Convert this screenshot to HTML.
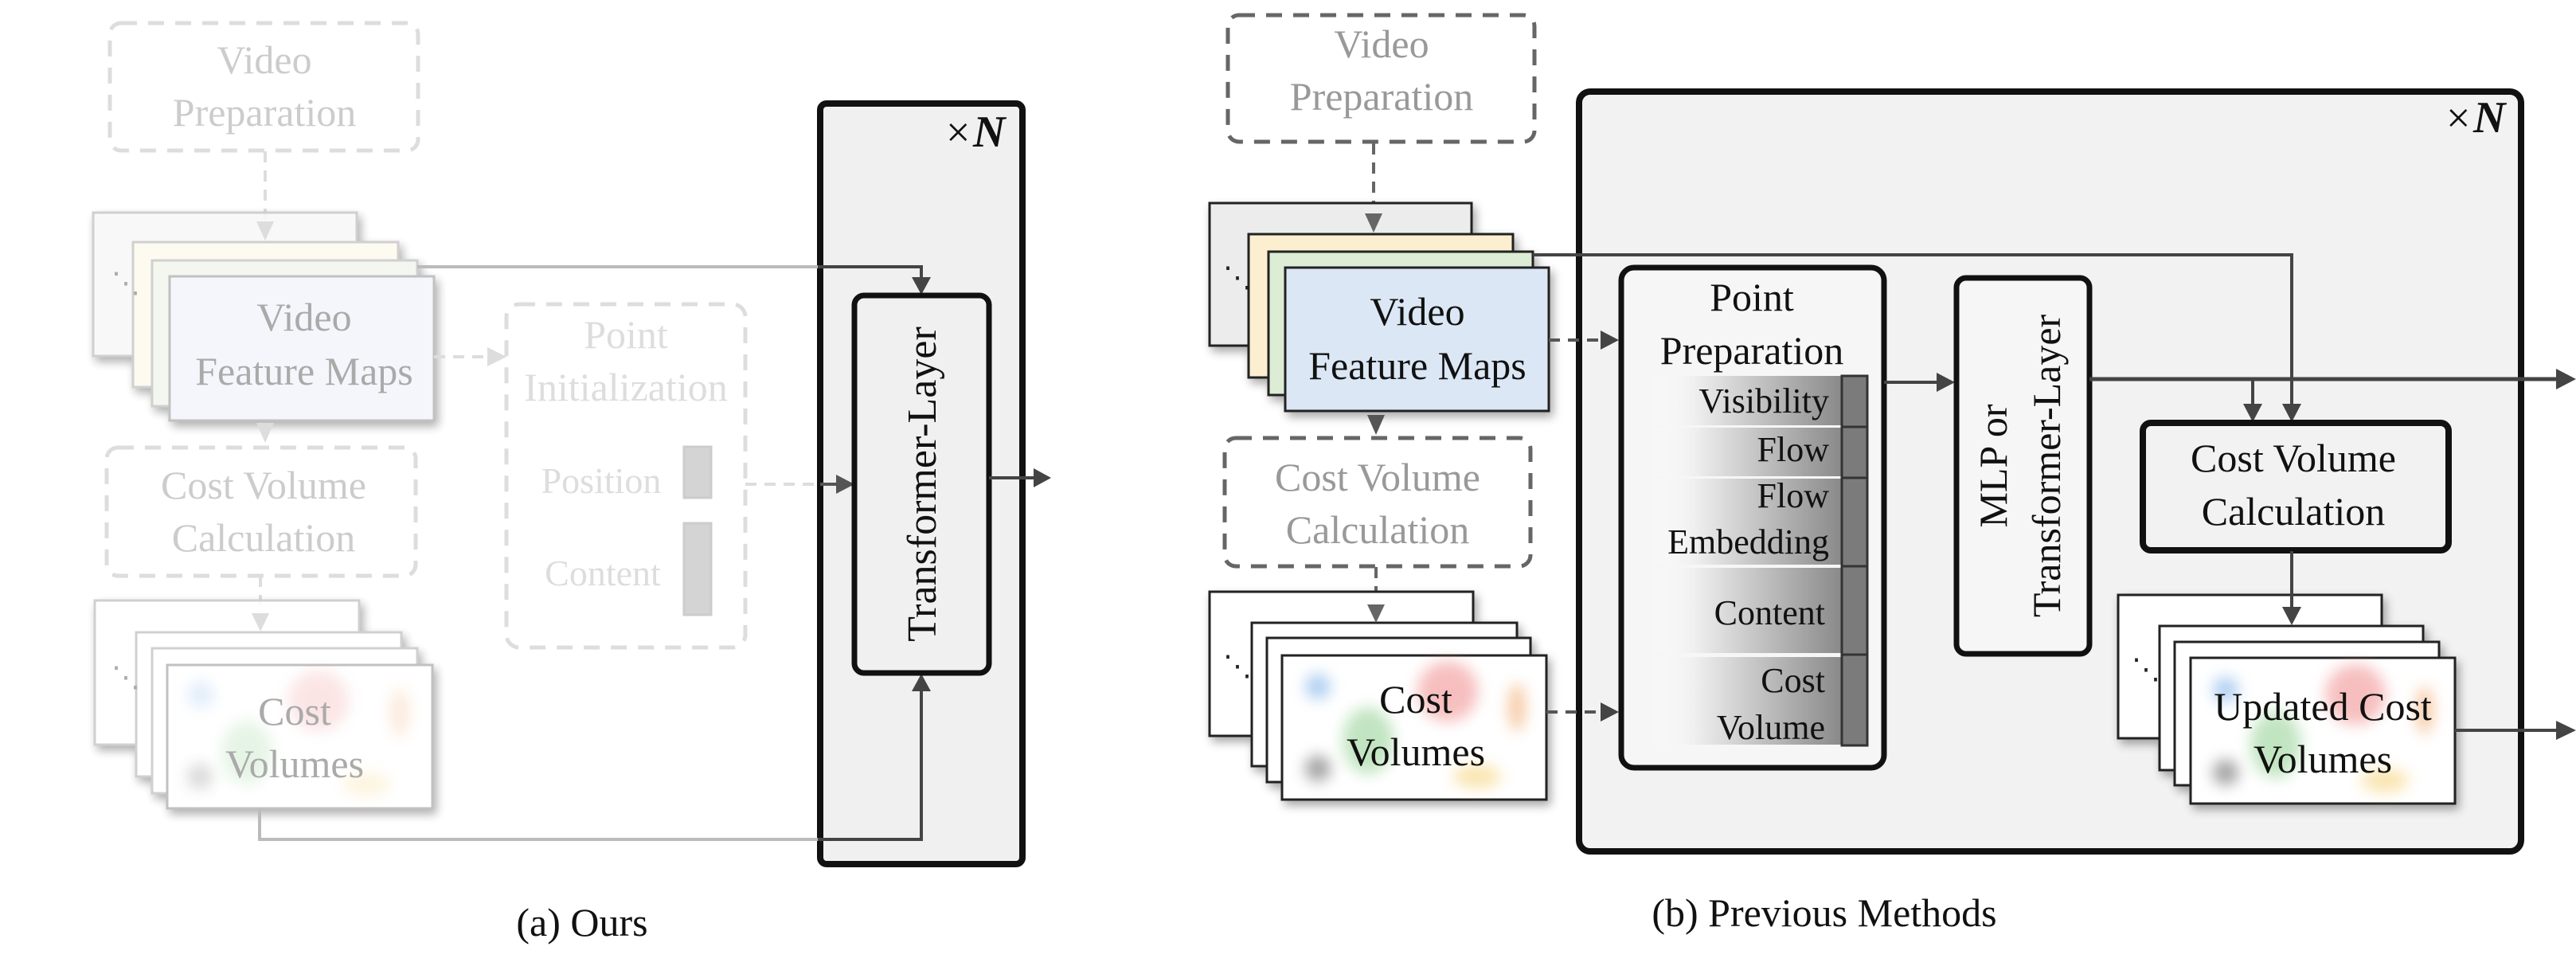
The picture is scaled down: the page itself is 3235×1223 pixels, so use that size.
<!DOCTYPE html>
<html><head><meta charset="utf-8"><style>
html,body{margin:0;padding:0;background:#fff}
svg{display:block}
text{font-family:"Liberation Serif",serif}
</style></head><body>
<svg width="3235" height="1223" viewBox="0 0 3235 1223" xmlns="http://www.w3.org/2000/svg">
<defs>
<filter id="sh" x="-10%" y="-10%" width="130%" height="130%"><feGaussianBlur in="SourceAlpha" stdDeviation="6"/><feOffset dx="4" dy="6"/><feComponentTransfer><feFuncA type="linear" slope="0.35"/></feComponentTransfer><feMerge><feMergeNode/><feMergeNode in="SourceGraphic"/></feMerge></filter>
<filter id="bl"><feGaussianBlur stdDeviation="9"/></filter>
<linearGradient id="gr" x1="0" x2="1" y1="0" y2="0"><stop offset="0" stop-color="#fff" stop-opacity="0"/><stop offset="0.25" stop-color="#eee"/><stop offset="1" stop-color="#8a8a8a"/></linearGradient>
</defs>

<!-- ============ LEFT PANEL ============ -->
<rect x="1030" y="130" width="254" height="955" rx="8" fill="#f0f0f0" stroke="#111" stroke-width="8"/>
<text x="1188" y="184" font-size="54" fill="#111">×</text>
<text x="1222" y="184" font-size="56" font-weight="bold" font-style="italic" fill="#111">N</text>

<rect x="138" y="29" width="387" height="160" rx="14" fill="none" stroke="#ddd" stroke-width="5" stroke-dasharray="20,14"/>
<text x="332" y="92" font-size="50" fill="#ccc" text-anchor="middle">Video</text>
<text x="332" y="158" font-size="50" fill="#ccc" text-anchor="middle">Preparation</text>
<line x1="333" y1="190" x2="333" y2="285" stroke="#ddd" stroke-width="4" stroke-dasharray="14,10"/>

<g filter="url(#sh)" opacity="0.9">
<rect x="117" y="267" width="331" height="180" fill="#f8f8f8" stroke="#ccc" stroke-width="3"/>
<rect x="167" y="304" width="333" height="182" fill="#fdfaee" stroke="#ccc" stroke-width="3"/>
<rect x="191" y="327" width="333" height="183" fill="#f2f7ef" stroke="#ccc" stroke-width="3"/>
<rect x="213" y="347" width="332" height="181" fill="#f3f6fb" stroke="#bbb" stroke-width="3"/>
</g>
<path d="M322,278 L344,278 L333,302z" fill="#ddd"/>
<text x="140" y="367" font-size="36" fill="#aaa">⋱</text>
<text x="382" y="415" font-size="50" fill="#aaa" text-anchor="middle">Video</text>
<text x="382" y="483" font-size="50" fill="#aaa" text-anchor="middle">Feature Maps</text>

<polyline points="524,335 1157,335" fill="none" stroke="#bbb" stroke-width="4"/>
<polyline points="1027,335 1157,335 1157,350" fill="none" stroke="#444" stroke-width="4"/>
<path d="M1145,348 L1169,348 L1157,370z" fill="#444"/>

<line x1="545" y1="448" x2="615" y2="448" stroke="#ddd" stroke-width="4" stroke-dasharray="14,10"/>
<path d="M612,436 L636,448 L612,460z" fill="#ddd"/>

<rect x="636" y="382" width="300" height="431" rx="16" fill="none" stroke="#ddd" stroke-width="5" stroke-dasharray="20,14"/>
<text x="786" y="437" font-size="50" fill="#ddd" text-anchor="middle">Point</text>
<text x="786" y="503" font-size="50" fill="#ddd" text-anchor="middle">Initialization</text>
<text x="755" y="619" font-size="46" fill="#ddd" text-anchor="middle">Position</text>
<rect x="859" y="561" width="34" height="64" fill="#d4d4d4" stroke="#ccc" stroke-width="3"/>
<text x="757" y="735" font-size="46" fill="#ddd" text-anchor="middle">Content</text>
<rect x="859" y="657" width="34" height="115" fill="#d4d4d4" stroke="#ccc" stroke-width="3"/>
<line x1="936" y1="608" x2="1030" y2="608" stroke="#ddd" stroke-width="4" stroke-dasharray="14,10"/>
<line x1="1030" y1="608" x2="1052" y2="608" stroke="#555" stroke-width="4"/>
<path d="M1050,596 L1073,608 L1050,620z" fill="#555"/>

<path d="M322,531 L344,531 L333,556z" fill="#ddd"/>
<rect x="134" y="562" width="388" height="161" rx="14" fill="none" stroke="#ddd" stroke-width="5" stroke-dasharray="20,14"/>
<text x="331" y="626" font-size="50" fill="#ccc" text-anchor="middle">Cost Volume</text>
<text x="331" y="692" font-size="50" fill="#ccc" text-anchor="middle">Calculation</text>
<line x1="327" y1="723" x2="327" y2="775" stroke="#ddd" stroke-width="4" stroke-dasharray="14,10"/>

<g filter="url(#sh)" opacity="0.9">
<rect x="119" y="754" width="332" height="181" fill="#fff" stroke="#ccc" stroke-width="3"/>
<rect x="171" y="794" width="333" height="181" fill="#fff" stroke="#ccc" stroke-width="3"/>
<rect x="191" y="814" width="333" height="182" fill="#fff" stroke="#ccc" stroke-width="3"/>
<rect x="210" y="835" width="333" height="180" fill="#fff" stroke="#bbb" stroke-width="3"/>
</g>
<path d="M316,770 L338,770 L327,793z" fill="#ddd"/>
<g filter="url(#bl)" opacity="0.22">
<circle cx="252" cy="872" r="16" fill="#6fa8e8"/>
<circle cx="400" cy="880" r="38" fill="#f08a8a"/>
<ellipse cx="310" cy="945" rx="32" ry="40" fill="#8fcf8f"/>
<ellipse cx="502" cy="895" rx="12" ry="30" fill="#f0a060"/>
<circle cx="251" cy="975" r="16" fill="#555"/>
<ellipse cx="460" cy="985" rx="30" ry="15" fill="#f5d070"/>
</g>
<text x="140" y="862" font-size="36" fill="#aaa">⋱</text>
<text x="370" y="910" font-size="50" fill="#aaa" text-anchor="middle">Cost</text>
<text x="370" y="976" font-size="50" fill="#aaa" text-anchor="middle">Volumes</text>

<polyline points="326,1015 326,1054 1157,1054" fill="none" stroke="#bbb" stroke-width="4"/>
<polyline points="1027,1054 1157,1054 1157,868" fill="none" stroke="#444" stroke-width="4"/>
<path d="M1145,868 L1169,868 L1157,846z" fill="#444"/>

<rect x="1073" y="371" width="169" height="474" rx="12" fill="#f0f0f0" stroke="#111" stroke-width="7"/>
<text transform="translate(1175,608) rotate(-90)" font-size="52" fill="#111" text-anchor="middle">Transformer-Layer</text>
<line x1="1242" y1="600" x2="1300" y2="600" stroke="#444" stroke-width="4"/>
<path d="M1298,588 L1320,600 L1298,612z" fill="#444"/>

<text x="731" y="1175" font-size="50" fill="#111" text-anchor="middle">(a) Ours</text>

<!-- ============ RIGHT PANEL ============ -->
<rect x="1983" y="115" width="1183" height="954" rx="14" fill="#f2f2f2" stroke="#111" stroke-width="8"/>
<text x="3072" y="166" font-size="54" fill="#111">×</text>
<text x="3106" y="166" font-size="56" font-weight="bold" font-style="italic" fill="#111">N</text>

<rect x="1542" y="19" width="385" height="159" rx="14" fill="none" stroke="#666" stroke-width="5" stroke-dasharray="20,14"/>
<text x="1735" y="72" font-size="50" fill="#999" text-anchor="middle">Video</text>
<text x="1735" y="138" font-size="50" fill="#999" text-anchor="middle">Preparation</text>
<line x1="1725" y1="180" x2="1725" y2="275" stroke="#666" stroke-width="4" stroke-dasharray="14,10"/>

<g filter="url(#sh)">
<rect x="1519" y="255" width="329" height="179" fill="#ececec" stroke="#222" stroke-width="3"/>
<rect x="1568" y="294" width="332" height="180" fill="#fbefcf" stroke="#222" stroke-width="3"/>
<rect x="1593" y="316" width="332" height="180" fill="#dcecd5" stroke="#222" stroke-width="3"/>
<rect x="1614" y="336" width="331" height="180" fill="#dbe7f4" stroke="#222" stroke-width="3"/>
</g>
<path d="M1714,268 L1736,268 L1725,292z" fill="#666"/>
<text x="1536" y="360" font-size="36" fill="#222">⋱</text>
<text x="1780" y="408" font-size="50" fill="#111" text-anchor="middle">Video</text>
<text x="1780" y="476" font-size="50" fill="#111" text-anchor="middle">Feature Maps</text>

<polyline points="1925,320 2878,320 2878,510" fill="none" stroke="#444" stroke-width="4"/>
<path d="M2866,507 L2890,507 L2878,530z" fill="#444"/>

<line x1="1945" y1="427" x2="2012" y2="427" stroke="#555" stroke-width="4" stroke-dasharray="14,10"/>
<path d="M2010,415 L2033,427 L2010,439z" fill="#444"/>

<path d="M1717,521 L1739,521 L1728,546z" fill="#555"/>
<rect x="1538" y="550" width="384" height="161" rx="14" fill="none" stroke="#666" stroke-width="5" stroke-dasharray="20,14"/>
<text x="1730" y="616" font-size="50" fill="#999" text-anchor="middle">Cost Volume</text>
<text x="1730" y="682" font-size="50" fill="#999" text-anchor="middle">Calculation</text>
<line x1="1728" y1="712" x2="1728" y2="765" stroke="#666" stroke-width="4" stroke-dasharray="14,10"/>

<g filter="url(#sh)">
<rect x="1519" y="743" width="331" height="181" fill="#fff" stroke="#222" stroke-width="3"/>
<rect x="1572" y="782" width="333" height="180" fill="#fff" stroke="#222" stroke-width="3"/>
<rect x="1591" y="801" width="331" height="181" fill="#fff" stroke="#222" stroke-width="3"/>
<rect x="1610" y="823" width="332" height="181" fill="#fff" stroke="#222" stroke-width="3"/>
</g>
<path d="M1717,759 L1739,759 L1728,782z" fill="#666"/>
<g filter="url(#bl)" opacity="0.55">
<circle cx="1655" cy="862" r="16" fill="#6fa8e8"/>
<circle cx="1818" cy="868" r="38" fill="#f08a8a"/>
<ellipse cx="1718" cy="930" rx="32" ry="42" fill="#8fcf8f"/>
<ellipse cx="1905" cy="888" rx="11" ry="30" fill="#f0a060"/>
<circle cx="1655" cy="965" r="16" fill="#555"/>
<ellipse cx="1855" cy="975" rx="30" ry="15" fill="#f5d070"/>
</g>
<text x="1536" y="848" font-size="36" fill="#222">⋱</text>
<text x="1778" y="895" font-size="50" fill="#111" text-anchor="middle">Cost</text>
<text x="1778" y="961" font-size="50" fill="#111" text-anchor="middle">Volumes</text>
<line x1="1942" y1="894" x2="2012" y2="894" stroke="#555" stroke-width="4" stroke-dasharray="14,10"/>
<path d="M2010,882 L2033,894 L2010,906z" fill="#444"/>

<rect x="2036" y="336" width="330" height="628" rx="16" fill="#f6f6f6" stroke="#111" stroke-width="7"/>
<text x="2200" y="390" font-size="50" fill="#111" text-anchor="middle">Point</text>
<text x="2200" y="457" font-size="50" fill="#111" text-anchor="middle">Preparation</text>
<g>
<rect x="2070" y="472" width="242" height="62" fill="url(#gr)"/>
<rect x="2070" y="537" width="242" height="61" fill="url(#gr)"/>
<rect x="2070" y="601" width="242" height="108" fill="url(#gr)"/>
<rect x="2070" y="713" width="242" height="107" fill="url(#gr)"/>
<rect x="2070" y="825" width="242" height="110" fill="url(#gr)"/>
</g>
<g fill="#7b7b7b" stroke="#333" stroke-width="3">
<rect x="2313" y="472" width="32" height="64"/>
<rect x="2313" y="536" width="32" height="64"/>
<rect x="2313" y="600" width="32" height="111"/>
<rect x="2313" y="711" width="32" height="111"/>
<rect x="2313" y="822" width="32" height="114"/>
</g>
<g font-size="44" fill="#111" text-anchor="end">
<text x="2297" y="518">Visibility</text>
<text x="2297" y="579">Flow</text>
<text x="2297" y="637">Flow</text>
<text x="2297" y="695">Embedding</text>
<text x="2292" y="784">Content</text>
<text x="2292" y="869">Cost</text>
<text x="2292" y="928">Volume</text>
</g>

<line x1="2366" y1="480" x2="2435" y2="480" stroke="#444" stroke-width="4"/>
<path d="M2432,468 L2455,480 L2432,492z" fill="#444"/>

<rect x="2457" y="349" width="167" height="472" rx="12" fill="#f6f6f6" stroke="#111" stroke-width="7"/>
<text transform="translate(2520,585) rotate(-90)" font-size="50" fill="#111" text-anchor="middle">MLP or</text>
<text transform="translate(2587,585) rotate(-90)" font-size="50" fill="#111" text-anchor="middle">Transformer-Layer</text>

<polyline points="2624,476 3212,476" fill="none" stroke="#444" stroke-width="5"/>
<path d="M3210,463 L3235,476 L3210,489z" fill="#444"/>
<polyline points="2829,476 2829,510" fill="none" stroke="#444" stroke-width="4"/>
<path d="M2817,507 L2841,507 L2829,530z" fill="#444"/>

<rect x="2691" y="531" width="384" height="160" rx="10" fill="#f2f2f2" stroke="#111" stroke-width="8"/>
<text x="2880" y="592" font-size="50" fill="#111" text-anchor="middle">Cost Volume</text>
<text x="2880" y="659" font-size="50" fill="#111" text-anchor="middle">Calculation</text>
<line x1="2878" y1="692" x2="2878" y2="765" stroke="#444" stroke-width="4"/>

<g filter="url(#sh)">
<rect x="2660" y="747" width="331" height="180" fill="#fff" stroke="#222" stroke-width="3"/>
<rect x="2712" y="786" width="331" height="181" fill="#fff" stroke="#222" stroke-width="3"/>
<rect x="2731" y="806" width="332" height="180" fill="#fff" stroke="#222" stroke-width="3"/>
<rect x="2751" y="826" width="332" height="183" fill="#fff" stroke="#222" stroke-width="3"/>
</g>
<line x1="2878" y1="745" x2="2878" y2="765" stroke="#444" stroke-width="4"/>
<path d="M2866,762 L2890,762 L2878,785z" fill="#444"/>
<g filter="url(#bl)" opacity="0.55">
<circle cx="2795" cy="866" r="16" fill="#6fa8e8"/>
<circle cx="2958" cy="872" r="38" fill="#f08a8a"/>
<ellipse cx="2858" cy="935" rx="32" ry="42" fill="#8fcf8f"/>
<ellipse cx="3045" cy="892" rx="11" ry="30" fill="#f0a060"/>
<circle cx="2795" cy="970" r="16" fill="#555"/>
<ellipse cx="2995" cy="980" rx="30" ry="15" fill="#f5d070"/>
</g>
<text x="2677" y="852" font-size="36" fill="#222">⋱</text>
<text x="2917" y="904" font-size="50" fill="#111" text-anchor="middle">Updated Cost</text>
<text x="2917" y="970" font-size="50" fill="#111" text-anchor="middle">Volumes</text>
<line x1="3083" y1="917" x2="3212" y2="917" stroke="#444" stroke-width="4"/>
<path d="M3210,905 L3235,917 L3210,929z" fill="#444"/>

<text x="2291" y="1163" font-size="50" fill="#111" text-anchor="middle">(b) Previous Methods</text>
</svg>
</body></html>
